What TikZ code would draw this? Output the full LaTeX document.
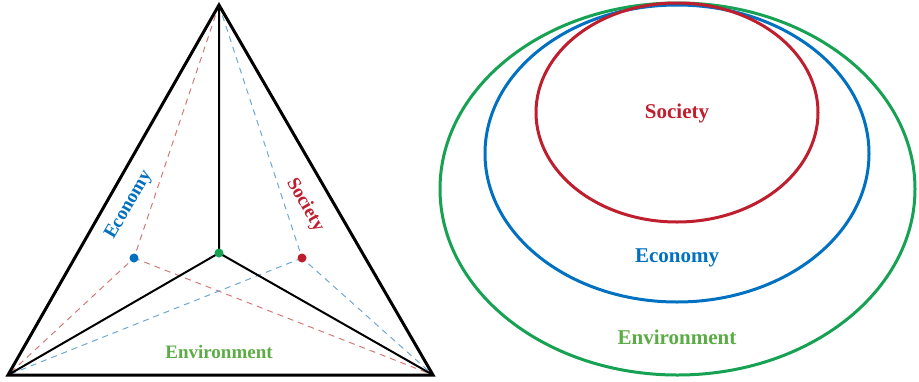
\documentclass[tikz,border=0pt]{standalone}
\usepackage{fontspec}
\setmainfont{Liberation Serif}

\definecolor{socred}{RGB}{190,30,45}
\definecolor{ecoblue}{RGB}{0,112,192}
\definecolor{envgreen}{RGB}{22,162,82}
\definecolor{envtext}{RGB}{92,172,70}
\definecolor{dashred}{RGB}{212,120,120}
\definecolor{dashblue}{RGB}{110,168,212}

\begin{document}
\begin{tikzpicture}[x=1pt,y=-1pt,line width=1pt,
  lbl/.style={anchor=center,inner sep=1pt,font=\fontsize{19}{22}\selectfont\bfseries},
  biglbl/.style={anchor=center,inner sep=1pt,font=\fontsize{21}{25}\selectfont\bfseries},
  ring/.style={line width=3pt}]
\path[use as bounding box] (0,0) rectangle (919,381);
% triangle corners and inner points
\coordinate (top) at (219,5);
\coordinate (bl) at (8,375);
\coordinate (br) at (433,375);
\coordinate (mid) at (219,253);
\coordinate (eco) at (134,258);
\coordinate (soc) at (302,258);
\draw[dashred,dash pattern=on 6pt off 5pt] (top) -- (eco) -- (bl) (eco) -- (br);
\draw[dashblue,dash pattern=on 6pt off 5pt] (top) -- (soc) -- (br) (soc) -- (bl);
\draw[line width=2pt] (top) -- (mid) (bl) -- (mid) -- (br);
\draw[line width=3pt,line join=miter] (top) -- (bl) -- (br) -- cycle;
\fill[envgreen] (mid) circle (4.5);
\fill[ecoblue] (eco) circle (4.5);
\fill[socred] (soc) circle (4.5);
\node[lbl,text=ecoblue,rotate=60] (ecolbl) at (129,205) {Economy};
\node[lbl,text=socred,rotate=-60] (soclbl) at (305,205) {Society};
\node[lbl,text=envtext] (envlbl) at (219,352) {Environment};
% nested rings
\draw[ring,envgreen] (677.5,189) ellipse [x radius=237.5pt, y radius=186pt];
\draw[ring,ecoblue] (677,153.5) ellipse [x radius=192pt, y radius=148.5pt];
\draw[ring,socred] (677,112.5) ellipse [x radius=141pt, y radius=109.5pt];
\node[biglbl,text=socred] (socring) at (677,113) {Society};
\node[biglbl,text=ecoblue] (ecoring) at (677,258) {Economy};
\node[biglbl,text=envtext] (envring) at (677,337) {Environment};
\end{tikzpicture}
\end{document}
